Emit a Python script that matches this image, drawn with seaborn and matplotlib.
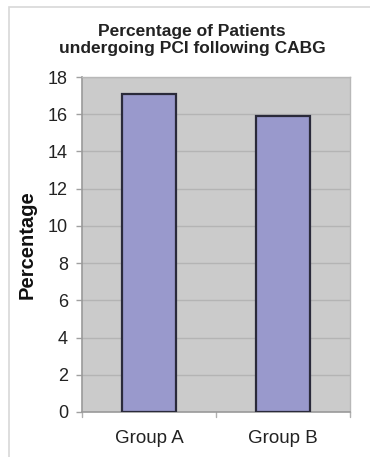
import matplotlib
matplotlib.use("Agg")
import matplotlib.pyplot as plt
from matplotlib.patches import Rectangle
import seaborn as sns
import pandas as pd

groups = ["Group A", "Group B"]
percentages = [17.1, 15.9]
y_ticks = [0, 2, 4, 6, 8, 10, 12, 14, 16, 18]

df = pd.DataFrame({"group": groups, "pct": percentages})

sns.set_theme(style="white")
plt.rcParams["font.family"] = ["Liberation Sans", "DejaVu Sans"]

fig = plt.figure(figsize=(3.7, 4.57), dpi=100)
fig.patch.set_facecolor("white")

# outer chart frame
fig.patches.append(Rectangle((9 / 370, -0.01), 1.1, 1 - 7 / 457 + 0.01,
                             transform=fig.transFigure, fill=False,
                             edgecolor="#d8d8d8", linewidth=1.2, zorder=0))

ax = fig.add_axes([82 / 370, 45 / 457, 268 / 370, 335 / 457])
ax.set_facecolor("#cbcbcb")

sns.barplot(data=df, x="group", y="pct", ax=ax, color="#9999cc",
            saturation=1, width=0.41, edgecolor="#2a2a3a", linewidth=1.6,
            zorder=3)

ax.set_ylim(0, 18)
ax.set_xlim(-0.5, 1.5)
ax.set_yticks(y_ticks)
ax.set_yticklabels([str(t) for t in y_ticks], fontsize=13, color="#222222")
ax.yaxis.grid(True, color="#b4b4b4", linewidth=1.0, zorder=1)
ax.set_axisbelow(True)

ax.set_xticks([0, 1])
ax.set_xticklabels(groups, fontsize=13.5, color="#222222")
ax.tick_params(axis="x", length=0, pad=13)
ax.tick_params(axis="y", length=4, width=1, color="#a0a0a0", pad=6, left=True)

# category separator ticks along the x axis
for xb in [-0.5, 0.5, 1.5]:
    ax.plot([xb, xb], [0, -0.25], color="#b0b0b0", linewidth=1,
            clip_on=False, zorder=2)

for s in ["left", "bottom"]:
    ax.spines[s].set_color("#9a9a9a")
    ax.spines[s].set_linewidth(1.2)
for s in ["top", "right"]:
    ax.spines[s].set_color("#b8b8b8")
    ax.spines[s].set_linewidth(1.0)

ax.set_xlabel("")
ax.set_ylabel("Percentage", fontsize=14.5, fontweight="bold", color="#111111",
              labelpad=8)

fig.text(192 / 370, 1 - 40 / 457,
         "Percentage of Patients\nundergoing PCI following CABG",
         ha="center", va="center", fontsize=12.5, fontweight="bold",
         color="#222222", linespacing=1.2)

fig.savefig("out.png", dpi=100)
